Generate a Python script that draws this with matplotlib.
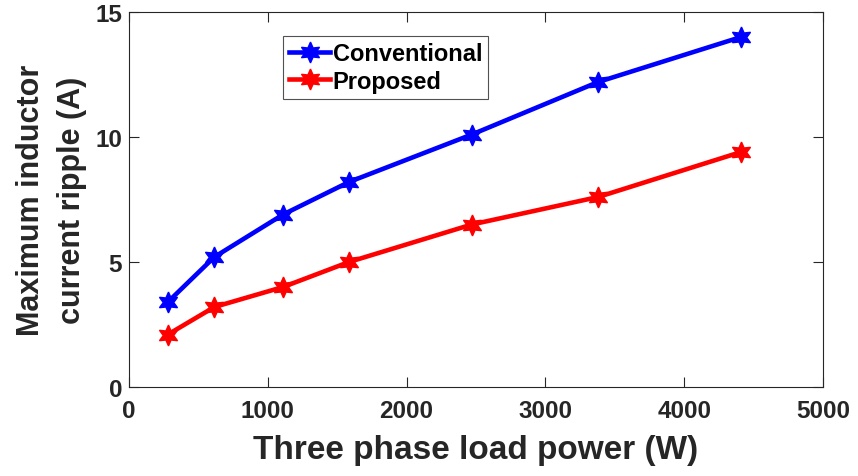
import matplotlib
matplotlib.use('Agg')
import matplotlib.pyplot as plt

power = [280, 615, 1110, 1585, 2470, 3380, 4410]
conventional = [3.4, 5.2, 6.9, 8.2, 10.1, 12.2, 14.0]
proposed = [2.1, 3.2, 4.0, 5.0, 6.5, 7.6, 9.4]

plt.rcParams['font.family'] = ['Liberation Sans', 'DejaVu Sans']
plt.rcParams['font.weight'] = 'bold'

fig = plt.figure(figsize=(8.58, 4.77), dpi=100)
ax = fig.add_axes([129 / 858, 1 - 388 / 477, 694 / 858, 375 / 477])

star = (6, 1, 0)
ax.plot(power, conventional, color='blue', linewidth=3.3, marker=star,
        markersize=15, label='Conventional')
ax.plot(power, proposed, color='red', linewidth=3.3, marker=star,
        markersize=15, label='Proposed')

ax.set_xlim(0, 5000)
ax.set_ylim(0, 15)
ax.set_xticks([0, 1000, 2000, 3000, 4000, 5000])
ax.set_yticks([0, 5, 10, 15])
ax.tick_params(direction='in', length=7, width=0.8, labelsize=17.5,
               top=True, right=True, colors='#262626', pad=5)
ax.tick_params(axis='x', pad=8.5)
for lab in ax.get_xticklabels() + ax.get_yticklabels():
    lab.set_fontweight('bold')
for s in ax.spines.values():
    s.set_color('#262626')
    s.set_linewidth(0.8)

ax.set_xlabel('Three phase load power (W)', fontsize=24, fontweight='bold',
              color='#262626', labelpad=9)
ax.set_ylabel('Maximum inductor\ncurrent ripple (A)', fontsize=22,
              fontweight='bold', color='#262626', labelpad=6, linespacing=1.45)

leg = ax.legend(loc='upper left', bbox_to_anchor=(0.222, 0.936), fontsize=17,
                frameon=True, fancybox=False, edgecolor='#262626',
                handlelength=1.75, handletextpad=0.1, borderpad=0.25,
                labelspacing=0.2, borderaxespad=0)
leg.get_frame().set_linewidth(0.8)
for t in leg.get_texts():
    t.set_fontweight('bold')

fig.savefig('out.png', dpi=100)
